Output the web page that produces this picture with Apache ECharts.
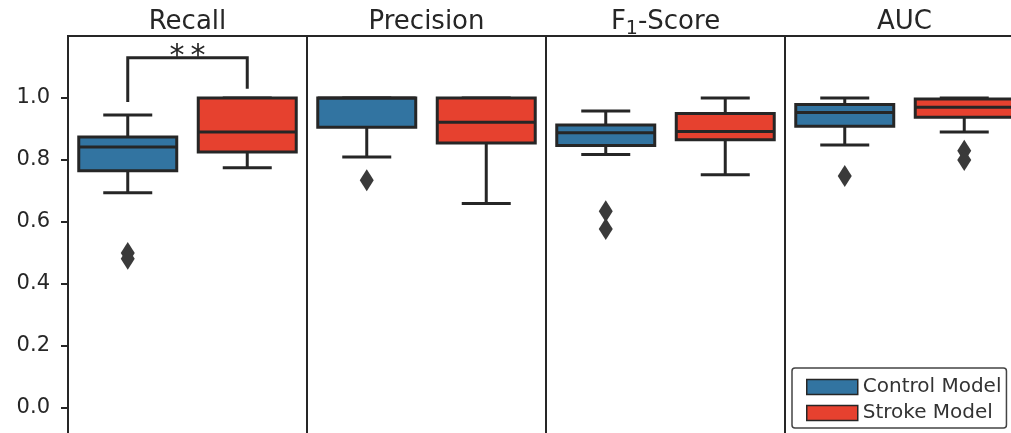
<!DOCTYPE html>
<html><head><meta charset="utf-8">
<script src="https://cdn.jsdelivr.net/npm/echarts@6/dist/echarts.min.js"></script>
<style>html,body{margin:0;padding:0;background:#fff}#c{width:1011px;height:433px}</style>
</head><body><div id="c"></div>
<script>
// ---- data ----
const metrics = ['Recall', 'Precision', 'F1-Score', 'AUC'];
const groups = ['Control Model', 'Stroke Model'];
// box stats per metric: [min whisker, Q1, median, Q3, max whisker]
const controlBoxes = [
  [0.694, 0.765, 0.842, 0.874, 0.945],
  [0.810, 0.906, 1.000, 1.000, 1.000],
  [0.818, 0.847, 0.888, 0.913, 0.958],
  [0.848, 0.909, 0.953, 0.979, 1.000]
];
const strokeBoxes = [
  [0.775, 0.826, 0.890, 1.000, 1.000],
  [0.660, 0.855, 0.922, 1.000, 1.000],
  [0.752, 0.865, 0.892, 0.950, 1.000],
  [0.890, 0.938, 0.970, 0.997, 1.000]
];
const controlOutliers = [[0.500, 0.481], [0.735], [0.635, 0.577], [0.748]];
const strokeOutliers = [[], [], [], [0.830, 0.800]];
const yTicks = [0.0, 0.2, 0.4, 0.6, 0.8, 1.0];
// significance bracket: [left category, right category, left leg end, top, right leg end]
const sigBracket = [0, 1, 0.987, 1.13, 1.03];
const sigPanel = 0;
const sigLabel = '*\u2009*';

// ---- style / layout ----
const colors = ['#3274a1', '#e6412f'];
const ink = '#262626';
const FONT = 'DejaVu Sans';
const PANEL_LEFT = 68, PANEL_W = 239, PANEL_TOP = 36, PANEL_H = 407;
const Y_MIN = -0.113, Y_MAX = 1.2;
const LW = 3;

function renderBox(params, api) {
  const ci = api.value(0);
  const x = api.coord([ci, 0])[0];
  const bw = api.size([1, 0])[0];
  const w = bw * 0.82, cap = w / 2;
  const y = [1, 2, 3, 4, 5].map(i => api.coord([ci, api.value(i)])[1]);
  const ls = { stroke: ink, lineWidth: LW };
  return {
    type: 'group', children: [
      { type: 'line', shape: { x1: x, y1: y[3], x2: x, y2: y[4] }, style: ls },
      { type: 'line', shape: { x1: x, y1: y[1], x2: x, y2: y[0] }, style: ls },
      { type: 'line', shape: { x1: x - cap / 2, y1: y[4], x2: x + cap / 2, y2: y[4] }, style: ls },
      { type: 'line', shape: { x1: x - cap / 2, y1: y[0], x2: x + cap / 2, y2: y[0] }, style: ls },
      { type: 'rect', shape: { x: x - w / 2, y: y[3], width: w, height: y[1] - y[3] }, style: { fill: colors[ci], stroke: ink, lineWidth: LW } },
      { type: 'line', shape: { x1: x - w / 2, y1: y[2], x2: x + w / 2, y2: y[2] }, style: ls }
    ]
  };
}

function renderBracket(params, api) {
  const a = api.coord([api.value(0), api.value(2)]);
  const t1 = api.coord([api.value(0), api.value(3)]);
  const t2 = api.coord([api.value(1), api.value(3)]);
  const b = api.coord([api.value(1), api.value(4)]);
  return {
    type: 'group', children: [
      { type: 'polyline', shape: { points: [a, t1, t2, b] }, style: { stroke: ink, lineWidth: LW, fill: null } },
      { type: 'text', x: (t1[0] + t2[0]) / 2, y: t1[1], style: { text: sigLabel, fill: ink, font: '30px "DejaVu Sans"', align: 'center', verticalAlign: 'middle' } }
    ]
  };
}

const grids = [], xAxes = [], yAxes = [], series = [], titles = [];
metrics.forEach((m, i) => {
  grids.push({
    left: PANEL_LEFT + PANEL_W * i, width: PANEL_W, top: PANEL_TOP, height: PANEL_H,
    outerBoundsMode: 'none', containLabel: false,
    show: true, borderColor: ink, borderWidth: 2, backgroundColor: 'transparent'
  });
  xAxes.push({ type: 'category', gridIndex: i, data: groups, show: false, boundaryGap: true });
  yAxes.push({
    type: 'value', gridIndex: i, min: Y_MIN, max: Y_MAX, show: i === 0,
    splitLine: { show: false },
    axisLine: { show: true, lineStyle: { color: ink, width: 2 } },
    axisTick: { show: true, length: 7, lineStyle: { color: ink, width: 2 }, customValues: yTicks },
    axisLabel: {
      customValues: yTicks, margin: 18, fontSize: 21, color: ink, fontFamily: FONT,
      formatter: v => v.toFixed(1)
    }
  });
  series.push({
    type: 'custom', xAxisIndex: i, yAxisIndex: i, renderItem: renderBox,
    encode: { x: 0, y: [1, 2, 3, 4, 5] },
    data: [[0].concat(controlBoxes[i]), [1].concat(strokeBoxes[i])], z: 3
  });
  const out = controlOutliers[i].map(v => [0, v]).concat(strokeOutliers[i].map(v => [1, v]));
  series.push({
    type: 'scatter', xAxisIndex: i, yAxisIndex: i, data: out, symbol: 'diamond',
    symbolSize: [14, 22], itemStyle: { color: '#3a3a3a', opacity: 1 }, z: 4, silent: true
  });
  const cx = PANEL_LEFT + PANEL_W * (i + 0.5);
  const isF1 = m === 'F1-Score';
  titles.push({
    text: isF1 ? '{f|F}{s|1}{f|-Score}' : m,
    left: cx, top: 5, textAlign: 'center', padding: 0,
    textStyle: {
      fontFamily: FONT, fontSize: 26, fontWeight: 'normal', color: ink, lineHeight: 34,
      rich: {
        f: { fontFamily: FONT, fontSize: 26, color: ink, lineHeight: 34 },
        s: { fontFamily: FONT, fontSize: 19, color: ink, lineHeight: 20, padding: [14, 0, 0, 0] }
      }
    }
  });
});

// significance bracket
series.push({
  type: 'custom', xAxisIndex: sigPanel, yAxisIndex: sigPanel, renderItem: renderBracket,
  encode: { x: [0, 1], y: [2, 3, 4] }, data: [sigBracket], z: 5, silent: true
});
// legend proxies
groups.forEach((g, k) => {
  series.push({ type: 'bar', name: g, xAxisIndex: 3, yAxisIndex: 3, data: [], itemStyle: { color: colors[k], borderColor: ink, borderWidth: 1.5 } });
});

const option = {
  animation: false,
  backgroundColor: '#fff',
  title: titles,
  grid: grids, xAxis: xAxes, yAxis: yAxes, series: series,
  legend: {
    data: groups.map((g, k) => ({ name: g, icon: 'rect', itemStyle: { color: colors[k], borderColor: ink, borderWidth: 1.5 } })),
    orient: 'vertical', left: 792, top: 368, itemWidth: 51, itemHeight: 15, itemGap: 6,
    padding: [9, 5, 5, 14], backgroundColor: '#fff', borderColor: '#444', borderWidth: 1.5, borderRadius: 3,
    textStyle: { fontFamily: FONT, fontSize: 20, color: '#333' }, selectedMode: false, z: 10
  }
};
const chart = echarts.init(document.getElementById('c'));
chart.setOption(option);
</script>
</body></html>
